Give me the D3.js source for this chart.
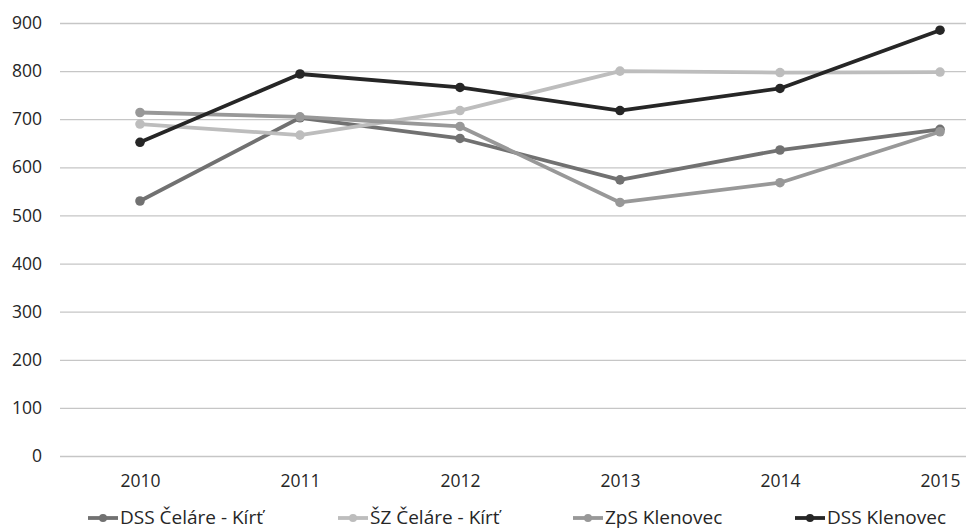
<!DOCTYPE html>
<html>
<head>
<meta charset="utf-8">
<script src="https://cdn.jsdelivr.net/npm/d3@7/dist/d3.min.js"></script>
<style>
  html, body { margin: 0; padding: 0; background: #fff; }
  svg { display: block; }
  text { font-family: "Open Sans", "Noto Sans", sans-serif; fill: #262626; }
</style>
</head>
<body>
<svg id="chart" width="966" height="530"></svg>
<script>
// Years on the horizontal axis
const years = ["2010", "2011", "2012", "2013", "2014", "2015"];

// One array per facility
const dssCelare = [530, 703, 660, 574, 636, 679];
const szCelare = [690, 667, 718, 800, 797, 798];
const zpsKlenovec = [714, 705, 685, 527, 568, 674];
const dssKlenovec = [652, 794, 766, 718, 764, 885];

const seriesNames = ["DSS Čeláre - Kírť", "ŠZ Čeláre - Kírť", "ZpS Klenovec", "DSS Klenovec"];
const seriesColors = ["#717171", "#bdbdbd", "#989898", "#262626"];
const yTicks = [0, 100, 200, 300, 400, 500, 600, 700, 800, 900];

const series = [dssCelare, szCelare, zpsKlenovec, dssKlenovec].map((values, i) => ({
  name: seriesNames[i],
  color: seriesColors[i],
  values
}));

const svg = d3.select("#chart");
const width = 966, height = 530;
const margin = { left: 60, top: 23, bottom: 74 };

const x = d3.scalePoint()
  .domain(years)
  .range([margin.left, margin.left + 160 * 6])
  .padding(0.5);

const y = d3.scaleLinear()
  .domain([0, 900])
  .range([height - margin.bottom, margin.top]);

// Horizontal gridlines with value labels
const yAxis = d3.axisLeft(y)
  .tickValues(yTicks)
  .tickSize(-(width - margin.left))
  .tickPadding(18)
  .tickFormat(d3.format("d"));

const gy = svg.append("g")
  .attr("transform", `translate(${margin.left},0)`)
  .call(yAxis);
gy.select(".domain").remove();
gy.selectAll(".tick line").attr("stroke", "#c6c6c6").attr("stroke-width", 1.3);
gy.selectAll(".tick text").attr("font-size", 17.5).attr("fill", "#262626");

// Year labels under the baseline
const xAxis = d3.axisBottom(x).tickSize(0).tickPadding(19);
const gx = svg.append("g")
  .attr("transform", `translate(0,${y(0)})`)
  .call(xAxis);
gx.select(".domain").remove();
gx.selectAll(".tick text").attr("font-size", 17.5).attr("fill", "#262626");

// Lines with round markers
const line = d3.line()
  .x((d, i) => x(years[i]))
  .y(d => y(d));

const sg = svg.selectAll("g.series")
  .data(series)
  .join("g")
  .attr("class", "series");

sg.append("path")
  .attr("d", d => line(d.values))
  .attr("fill", "none")
  .attr("stroke", d => d.color)
  .attr("stroke-width", 3.8)
  .attr("stroke-linejoin", "round");

sg.selectAll("circle")
  .data(d => d.values.map((v, i) => ({ v, i, color: d.color })))
  .join("circle")
  .attr("cx", d => x(years[d.i]))
  .attr("cy", d => y(d.v))
  .attr("r", 4.8)
  .attr("fill", d => d.color);

// Legend along the bottom edge
const legendX = [88, 338, 573, 795];
const legend = svg.append("g").attr("transform", "translate(0,518)");
const items = legend.selectAll("g")
  .data(series)
  .join("g")
  .attr("transform", (d, i) => `translate(${legendX[i]},0)`);

items.append("line")
  .attr("x1", 0).attr("x2", 30)
  .attr("y1", 0).attr("y2", 0)
  .attr("stroke", d => d.color)
  .attr("stroke-width", 3.8);
items.append("circle")
  .attr("cx", 15).attr("cy", 0).attr("r", 4)
  .attr("fill", d => d.color);
items.append("text")
  .attr("x", 32)
  .attr("y", 0)
  .attr("dy", "0.34em")
  .attr("font-size", 19)
  .text(d => d.name);
</script>
</body>
</html>
